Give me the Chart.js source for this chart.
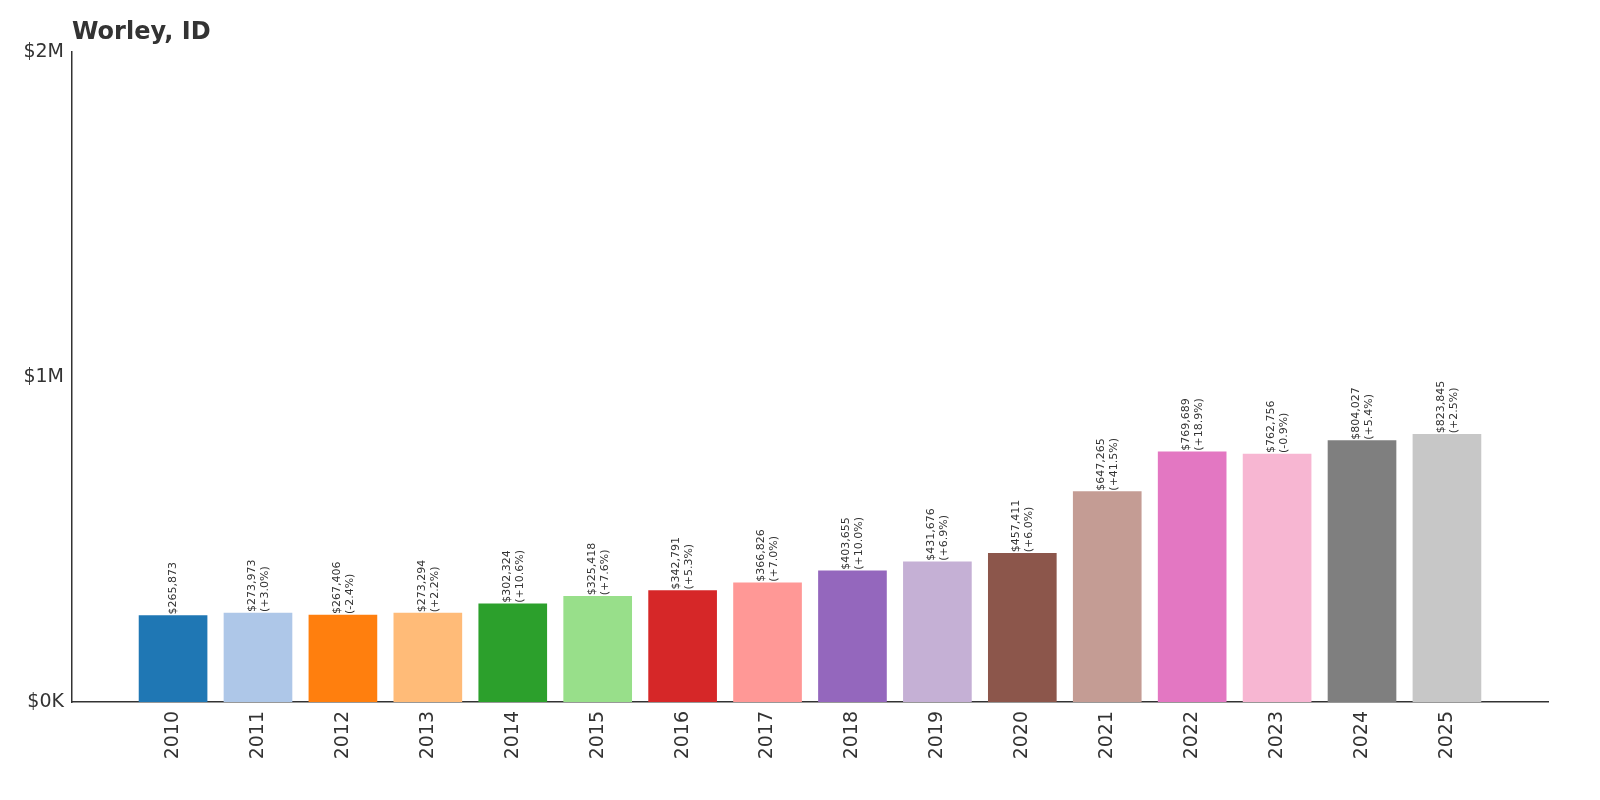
<!DOCTYPE html>
<html lang="en">
  <head>
    <meta charset="UTF-8" />
    <title>Worley, ID</title>
    <style>
      html, body { margin: 0; padding: 0; background: #fff; }
      #wrap { width: 1600px; height: 800px; }
    </style>
  </head>
  <body>
    <div id="wrap"><canvas id="myChart"></canvas></div>

    <script src="https://cdn.jsdelivr.net/npm/chart.js"></script>
    <script>
      const years = ['2010','2011','2012','2013','2014','2015','2016','2017','2018','2019','2020','2021','2022','2023','2024','2025'];
      const values = [265873, 273973, 267406, 273294, 302324, 325418, 342791, 366826, 403655, 431676, 457411, 647265, 769689, 762756, 804027, 823845];
      const changes = ['', '+3.0%', '-2.4%', '+2.2%', '+10.6%', '+7.6%', '+5.3%', '+7.0%', '+10.0%', '+6.9%', '+6.0%', '+41.5%', '+18.9%', '-0.9%', '+5.4%', '+2.5%'];
      const colors = ['#1f77b4','#aec7e8','#ff7f0e','#ffbb78','#2ca02c','#98df8a','#d62728','#ff9896','#9467bd','#c5b0d5','#8c564b','#c49c94','#e377c2','#f7b6d2','#7f7f7f','#c7c7c7'];
      const yTicks = [0, 1000000, 2000000];
      const yTickLabels = ['$0K', '$1M', '$2M'];

      const font = 'DejaVu Sans';

      const barLabels = {
        id: 'barLabels',
        afterDatasetsDraw(chart) {
          const ctx = chart.ctx;
          const x = chart.scales.x, y = chart.scales.y;
          ctx.save();
          ctx.fillStyle = '#333';
          ctx.font = '11px "' + font + '"';
          ctx.textAlign = 'left';
          values.forEach((v, i) => {
            const px = x.getPixelForValue(i), py = y.getPixelForValue(v) - 1;
            const lines = ['$' + v.toLocaleString('en-US')];
            if (changes[i]) lines.push('(' + changes[i] + ')');
            ctx.save();
            ctx.translate(px, py);
            ctx.rotate(-Math.PI / 2);
            ctx.textBaseline = 'middle';
            if (lines.length === 1) {
              ctx.fillText(lines[0], 0, 0);
            } else {
              ctx.fillText(lines[0], 0, -6);
              ctx.fillText(lines[1], 0, 7);
            }
            ctx.restore();
          });
          ctx.font = 'bold 24px "' + font + '"';
          ctx.textBaseline = 'alphabetic';
          ctx.fillText('Worley, ID', 72, 39);
          ctx.restore();
        }
      };

      new Chart(document.getElementById('myChart'), {
        type: 'bar',
        data: {
          datasets: [{
            data: values.map((v, i) => ({ x: i, y: v })),
            backgroundColor: colors,
            barThickness: 68
          }]
        },
        options: {
          responsive: true,
          maintainAspectRatio: false,
          animation: false,
          layout: { padding: { top: 52, right: 52, left: 0, bottom: 0 } },
          plugins: { legend: { display: false }, tooltip: { enabled: false } },
          scales: {
            x: {
              type: 'linear',
              offset: false,
              min: -1.19,
              max: 16.19,
              afterBuildTicks(axis) { axis.ticks = years.map((_, i) => ({ value: i })); },
              afterFit(axis) { axis.height = 98; },
              grid: { display: false, drawTicks: true, tickLength: 6, color: '#333' },
              border: { color: '#333', width: 1.5 },
              ticks: {
                color: '#333',
                font: { family: font, size: 19 },
                maxRotation: 90, minRotation: 90,
                callback: (v) => years[v]
              }
            },
            y: {
              min: 0,
              max: 2000000,
              afterBuildTicks(axis) { axis.ticks = yTicks.map(v => ({ value: v })); },
              afterFit(axis) { axis.width = 72; },
              grid: { display: false, drawTicks: true, tickLength: 6 },
              border: { color: '#333', width: 1.5 },
              ticks: {
                color: '#333',
                font: { family: font, size: 19 },
                padding: 2,
                callback: (v) => yTickLabels[yTicks.indexOf(v)]
              }
            }
          }
        },
        plugins: [barLabels]
      });
    </script>
  </body>
</html>
